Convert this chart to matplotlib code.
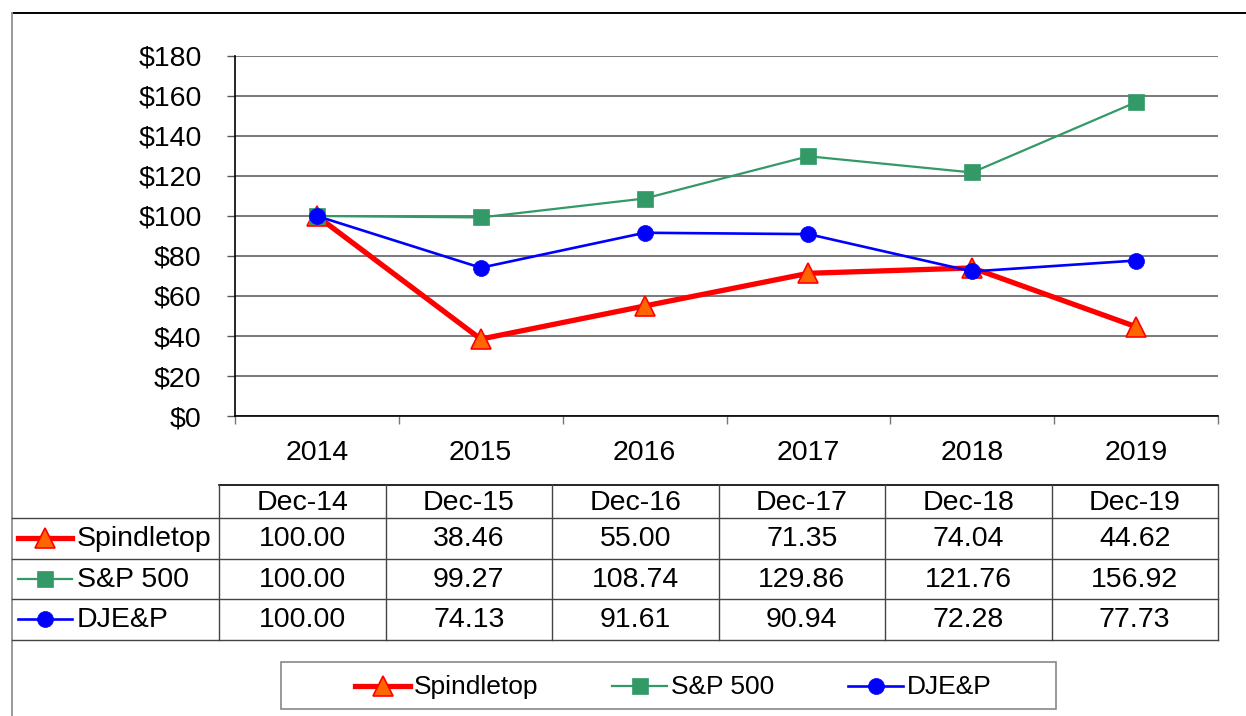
import numpy as np
import matplotlib
matplotlib.use('Agg')
import matplotlib.pyplot as plt
from matplotlib.lines import Line2D

plt.rcParams['font.family'] = ['Liberation Sans', 'DejaVu Sans']

# 数据
years = ['2014', '2015', '2016', '2017', '2018', '2019']
dates = ['Dec-14', 'Dec-15', 'Dec-16', 'Dec-17', 'Dec-18', 'Dec-19']
spindletop = [100.00, 38.46, 55.00, 71.35, 74.04, 44.62]
sp500 = [100.00, 99.27, 108.74, 129.86, 121.76, 156.92]
djep = [100.00, 74.13, 91.61, 90.94, 72.28, 77.73]
names = ['Spindletop', 'S&P 500', 'DJE&P']
yticks = [0, 20, 40, 60, 80, 100, 120, 140, 160, 180]

W, H = 1246, 716
FS = 20.5
FS_LEG = 19

styles = [
    dict(color='#ff0000', lw=3.8, marker='^', ms=14, mfc='#ff6600', mec='#ff0000', mew=1.2),
    dict(color='#339966', lw=1.6, marker='s', ms=11, mfc='#339966', mec='#339966', mew=0.5),
    dict(color='#0000ff', lw=1.9, marker='o', ms=11.5, mfc='#0000ff', mec='#0000ff', mew=0.5),
]
series = [spindletop, sp500, djep]

fig = plt.figure(figsize=(W / 100, H / 100), dpi=100)
fig.patch.set_facecolor('white')

# 主图
ax = fig.add_axes([235 / W, 1 - 416 / H, (1218 - 235) / W, (416 - 56) / H])
x = np.arange(len(years))
for s, st in zip(series, styles):
    ax.plot(x, s, **st, zorder=3)

ax.set_xlim(-0.5, len(years) - 0.5)
ax.set_ylim(0, 180)
ax.set_yticks(yticks)
ax.set_yticklabels(['$%d' % v for v in yticks], fontsize=FS)
ax.yaxis.grid(True, color='#555555', lw=1.1)
ax.set_axisbelow(True)
ax.tick_params(axis='y', length=6.1, width=1, color='#555555', pad=18, direction='out')

ax.set_xticks(x)
ax.set_xticklabels(years, fontsize=FS)
ax.set_xticks(np.arange(len(years) + 1) - 0.5, minor=True)
ax.tick_params(axis='x', which='major', length=0, pad=17)
ax.tick_params(axis='x', which='minor', length=5.8, width=1, color='#777777', direction='out')

for sp in ['top', 'right']:
    ax.spines[sp].set_visible(False)
ax.spines['left'].set_color('black')
ax.spines['bottom'].set_color('black')
ax.spines['left'].set_linewidth(1.2)
ax.spines['bottom'].set_linewidth(1.2)

# 覆盖层: 像素坐标, 画外框 / 数据表 / 图例
ov = fig.add_axes([0, 0, 1, 1], zorder=-1)
ov.set_xlim(0, W)
ov.set_ylim(H, 0)
ov.axis('off')

# 外框
ov.plot([12, W], [13, 13], color='black', lw=1.4)
ov.plot([12, 12], [13, H], color='#999999', lw=1.4)

# 数据表
col_x = np.linspace(219, 1218, len(dates) + 1)
row_y = [485, 518, 558.5, 599, 639.5]
lc = '#444444'
ov.plot([219, 1218], [row_y[0], row_y[0]], color='black', lw=1.2)
for cx in col_x:
    ov.plot([cx, cx], [row_y[0], row_y[-1]], color=lc, lw=1)
for ry in row_y[1:]:
    ov.plot([12, 1218], [ry, ry], color=lc, lw=1)
for i, d in enumerate(dates):
    ov.text((col_x[i] + col_x[i + 1]) / 2, (row_y[0] + row_y[1]) / 2 + 1, d,
            ha='center', va='center', fontsize=FS)
for r, (s, st, nm) in enumerate(zip(series, styles, names)):
    cy = (row_y[r + 1] + row_y[r + 2]) / 2
    ov.add_line(Line2D([18, 72], [cy, cy], color=st['color'], lw=st['lw']))
    ov.plot([45], [cy], linestyle='none', marker=st['marker'], ms=st['ms'],
            mfc=st['mfc'], mec=st['mec'], mew=st['mew'])
    ov.text(77, cy + 1, nm, ha='left', va='center', fontsize=FS)
    for i, v in enumerate(s):
        ov.text((col_x[i] + col_x[i + 1]) / 2, cy + 1, '%.2f' % v,
                ha='center', va='center', fontsize=FS)

# 图例框
ov.add_patch(plt.Rectangle((281, 662), 1056 - 281, 709 - 662, fill=False,
                           edgecolor='#888888', lw=1.2))
leg_x = [355, 612, 848]
for lx, st, nm in zip(leg_x, styles, names):
    cy = 686
    ov.add_line(Line2D([lx, lx + 55], [cy, cy], color=st['color'], lw=st['lw']))
    ov.plot([lx + 27.5], [cy], linestyle='none', marker=st['marker'], ms=st['ms'],
            mfc=st['mfc'], mec=st['mec'], mew=st['mew'])
    ov.text(lx + 59, cy + 1, nm, ha='left', va='center', fontsize=FS_LEG)

fig.savefig('out.png', dpi=100)
